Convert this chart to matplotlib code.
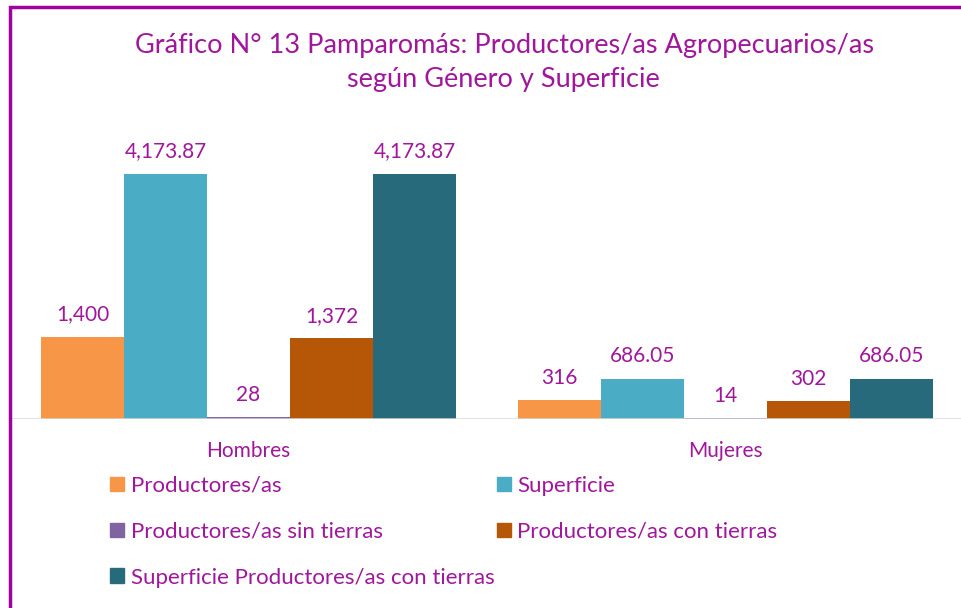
import numpy as np
import matplotlib
matplotlib.use('Agg')
import matplotlib.pyplot as plt
from matplotlib.patches import Rectangle, Patch

plt.rcParams['font.family'] = ['Lato', 'DejaVu Sans']

# Data
categories = ['Hombres', 'Mujeres']
series_names = ['Productores/as', 'Superficie', 'Productores/as sin tierras',
                'Productores/as con tierras', 'Superficie Productores/as con tierras']
productores = [1400, 316]
superficie = [4173.87, 686.05]
sin_tierras = [28, 14]
con_tierras = [1372, 302]
sup_con_tierras = [4173.87, 686.05]
label_fmt = ['{:,.0f}', '{:,.2f}', '{:,.0f}', '{:,.0f}', '{:,.2f}']

colors = ['#F79646', '#4BACC6', '#8064A2', '#B65708', '#276A7C']
purple = '#A0179C'

all_series = [productores, superficie, sin_tierras, con_tierras, sup_con_tierras]

fig = plt.figure(figsize=(9.61, 6.08), dpi=100)
ax = fig.add_axes([10 / 961, 189 / 608, 951 / 961, 293.5 / 608])

x = np.arange(len(categories))
w = 0.174
handles = []
for i, vals in enumerate(all_series):
    pos = x + (i - 2) * w
    ax.bar(pos, vals, width=w, color=colors[i], label=series_names[i])
    handles.append(Patch(color=colors[i], label=series_names[i]))
    for p, v in zip(pos, vals):
        ax.annotate(label_fmt[i].format(v), xy=(p, v), xytext=(0, 9),
                    textcoords='offset points', ha='center', va='bottom',
                    fontsize=15, color=purple)

ax.set_xlim(-0.5, -0.5 + 951 / 477)
ax.set_ylim(0, 5000)
ax.axhline(0, color='#D9D9D9', lw=1.8, zorder=5)
for s in ax.spines.values():
    s.set_visible(False)
ax.set_yticks([])
ax.set_xticks(x)
ax.set_xticklabels(categories, fontsize=15, color=purple)
ax.tick_params(axis='x', length=0, pad=16)

# Title
fig.text(505 / 961, 1 - 45 / 608, 'Gráfico N° 13 Pamparomás: Productores/as Agropecuarios/as',
         ha='center', va='center', fontsize=19.5, color=purple)
fig.text(503 / 961, 1 - 80 / 608, 'según Género y Superficie',
         ha='center', va='center', fontsize=19.5, color=purple)

# Legend (row-wise order like Excel)
order = [0, 2, 4, 1, 3]
leg = fig.legend([handles[k] for k in order], [series_names[k] for k in order],
                 ncol=2, loc='upper left', bbox_to_anchor=(110 / 961, 1 - 476 / 608),
                 frameon=False, fontsize=16, labelcolor=purple,
                 handlelength=0.63, handleheight=0.63, handletextpad=0.3,
                 labelspacing=1.16, columnspacing=0.1, borderpad=0, borderaxespad=0)

# Border
fig.patches.append(Rectangle((10 / 961, -0.1), 1.2, 1.1 - 7 / 608,
                             transform=fig.transFigure, fill=False,
                             edgecolor='#A000A0', lw=2.5))

fig.savefig('out.png', dpi=100)
